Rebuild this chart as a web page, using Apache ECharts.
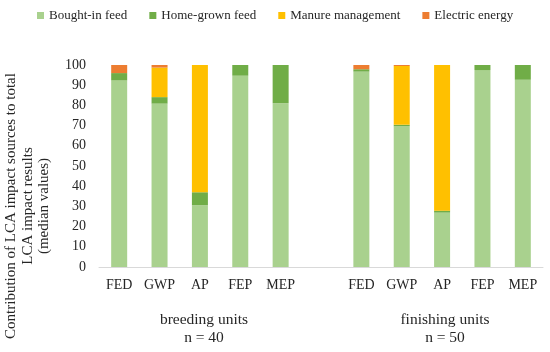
<!DOCTYPE html>
<html>
<head>
<meta charset="utf-8">
<script src="https://cdn.jsdelivr.net/npm/echarts@6/dist/echarts.min.js"></script>
<style>html,body{margin:0;padding:0;background:#fff;}#c{width:550px;height:352px;}</style>
</head>
<body>
<div id="c"></div>
<script>
const categories = ['FED','GWP','AP','FEP','MEP','', 'FED','GWP','AP','FEP','MEP'];
const boughtIn   = [92.4, 80.9, 30.5, 94.7, 81.0, null, 96.7, 69.6, 26.9, 97.5, 92.7];
const homeGrown  = [3.6,  3.2,  6.5,  5.3,  19.0, null, 1.2,  0.8,  1.0,  2.5,  7.3];
const manure     = [0,    14.6, 63.0, 0,    0,    null, 0,    29.1, 72.1, 0,    0];
const electric   = [4.0,  1.3,  0,    0,    0,    null, 2.1,  0.5,  0,    0,    0];
const seriesNames = ['Bought-in feed','Home-grown feed','Manure management','Electric energy'];
const yTicks = [0,10,20,30,40,50,60,70,80,90,100];
const groupLabels = [['breeding units','n = 40'],['finishing units','n = 50']];
const yTitle = ['Contribution of LCA impact sources to total','LCA impact results','(median values)'];

const FONT = 'Liberation Serif';
const TXT = '#262626';
const colors = ['#A9D18E','#70AD47','#FFC000','#ED7D31'];
const values = [boughtIn, homeGrown, manure, electric];

const chart = echarts.init(document.getElementById('c'));
chart.setOption({
  animation: false,
  color: colors,
  legend: {
    top: 4, left: 32,
    itemWidth: 7, itemHeight: 7, itemGap: 22,
    icon: 'rect',
    textStyle: {fontFamily: FONT, fontSize: 13, color: TXT},
    data: seriesNames
  },
  grid: {left: 99, right: 7, top: 65, bottom: 85},
  xAxis: {
    type: 'category', data: categories,
    axisLine: {lineStyle: {color: '#d9d9d9'}},
    axisTick: {show: false},
    axisLabel: {fontFamily: FONT, fontSize: 14, color: TXT, margin: 11, interval: 0}
  },
  yAxis: {
    type: 'value', min: yTicks[0], max: yTicks[yTicks.length-1], interval: 10,
    axisLine: {show: false}, axisTick: {show: false}, splitLine: {show: false},
    axisLabel: {fontFamily: FONT, fontSize: 14, color: TXT, margin: 13}
  },
  series: seriesNames.map((n, i) => ({
    name: n, type: 'bar', stack: 'total', barWidth: 16,
    data: values[i]
  })),
  graphic: [
    {type: 'text', x: 28, y: 206, rotation: Math.PI/2,
     style: {text: yTitle.join('\n'), font: '15px ' + FONT, fill: TXT, align: 'center', verticalAlign: 'middle', lineHeight: 16.5}},
    {type: 'text', x: 204, y: 329,
     style: {text: groupLabels[0].join('\n'), font: '15.5px ' + FONT, fill: TXT, align: 'center', verticalAlign: 'middle', lineHeight: 18}},
    {type: 'text', x: 445, y: 329,
     style: {text: groupLabels[1].join('\n'), font: '15.5px ' + FONT, fill: TXT, align: 'center', verticalAlign: 'middle', lineHeight: 18}}
  ]
});
</script>
</body>
</html>
